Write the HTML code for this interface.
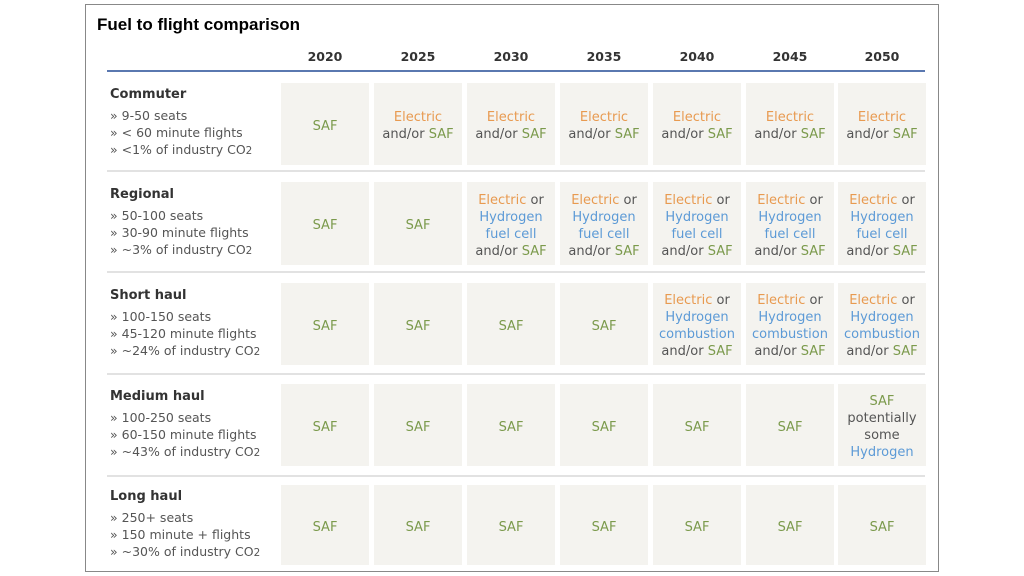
<!DOCTYPE html>
<html><head><meta charset="utf-8"><style>
*{margin:0;padding:0;box-sizing:border-box}
body{width:1024px;height:576px;background:#fff;position:relative;font-family:"DejaVu Sans","Liberation Sans",sans-serif;overflow:hidden}
.frame{position:absolute;left:85px;top:4px;width:854px;height:568px;border:1.5px solid #888}
.title{position:absolute;left:97px;top:15px;font:bold 17px "Liberation Sans",sans-serif;color:#000}
.yr{position:absolute;top:49px;width:88px;text-align:center;font:bold 12.5px "DejaVu Sans",sans-serif;color:#333}
.blue{position:absolute;left:107px;top:70px;width:818px;height:2px;background:#5a78b0}
.sep{position:absolute;left:107px;width:818px;height:2px;background:#e2e2e2}
.cell{position:absolute;width:88px;background:#f4f3ef;display:flex;align-items:center;justify-content:center;text-align:center;font-size:13px;line-height:17px;color:#555;padding-top:4px}
.lab{position:absolute;left:110px;font-size:12.5px;line-height:17px;color:#555}
.lab b{color:#333;font-size:13px;display:block;margin-bottom:4px}
.s{color:#7b9a4c}.e{color:#e89a50}.h{color:#5c9ad6}
</style></head><body>
<div class="frame"></div>
<div class="title">Fuel to flight comparison</div>
<div class="yr" style="left:281px">2020</div><div class="yr" style="left:374px">2025</div><div class="yr" style="left:467px">2030</div><div class="yr" style="left:560px">2035</div><div class="yr" style="left:653px">2040</div><div class="yr" style="left:746px">2045</div><div class="yr" style="left:838px">2050</div>
<div class="blue"></div>
<div class="sep" style="top:170px"></div><div class="sep" style="top:271px"></div><div class="sep" style="top:373px"></div><div class="sep" style="top:475px"></div>

<div class="lab" style="top:86px"><b>Commuter</b>» 9-50 seats<br>» &lt; 60 minute flights<br>» &lt;1% of industry CO<small>2</small></div>
<div class="lab" style="top:186px"><b>Regional</b>» 50-100 seats<br>» 30-90 minute flights<br>» ~3% of industry CO<small>2</small></div>
<div class="lab" style="top:287px"><b>Short haul</b>» 100-150 seats<br>» 45-120 minute flights<br>» ~24% of industry CO<small>2</small></div>
<div class="lab" style="top:388px"><b>Medium haul</b>» 100-250 seats<br>» 60-150 minute flights<br>» ~43% of industry CO<small>2</small></div>
<div class="lab" style="top:488px"><b>Long haul</b>» 250+ seats<br>» 150 minute + flights<br>» ~30% of industry CO<small>2</small></div>

<!-- Commuter -->
<div class="cell" style="left:281px;top:83px;height:82px"><span class="s">SAF</span></div>
<div class="cell" style="left:374px;top:83px;height:82px"><div><span class="e">Electric</span><br>and/or <span class="s">SAF</span></div></div>
<div class="cell" style="left:467px;top:83px;height:82px"><div><span class="e">Electric</span><br>and/or <span class="s">SAF</span></div></div>
<div class="cell" style="left:560px;top:83px;height:82px"><div><span class="e">Electric</span><br>and/or <span class="s">SAF</span></div></div>
<div class="cell" style="left:653px;top:83px;height:82px"><div><span class="e">Electric</span><br>and/or <span class="s">SAF</span></div></div>
<div class="cell" style="left:746px;top:83px;height:82px"><div><span class="e">Electric</span><br>and/or <span class="s">SAF</span></div></div>
<div class="cell" style="left:838px;top:83px;height:82px"><div><span class="e">Electric</span><br>and/or <span class="s">SAF</span></div></div>
<!-- Regional -->
<div class="cell" style="left:281px;top:182px;height:83px"><span class="s">SAF</span></div>
<div class="cell" style="left:374px;top:182px;height:83px"><span class="s">SAF</span></div>
<div class="cell" style="left:467px;top:182px;height:83px"><div><span class="e">Electric</span> or<br><span class="h">Hydrogen<br>fuel cell</span><br>and/or <span class="s">SAF</span></div></div>
<div class="cell" style="left:560px;top:182px;height:83px"><div><span class="e">Electric</span> or<br><span class="h">Hydrogen<br>fuel cell</span><br>and/or <span class="s">SAF</span></div></div>
<div class="cell" style="left:653px;top:182px;height:83px"><div><span class="e">Electric</span> or<br><span class="h">Hydrogen<br>fuel cell</span><br>and/or <span class="s">SAF</span></div></div>
<div class="cell" style="left:746px;top:182px;height:83px"><div><span class="e">Electric</span> or<br><span class="h">Hydrogen<br>fuel cell</span><br>and/or <span class="s">SAF</span></div></div>
<div class="cell" style="left:838px;top:182px;height:83px"><div><span class="e">Electric</span> or<br><span class="h">Hydrogen<br>fuel cell</span><br>and/or <span class="s">SAF</span></div></div>
<!-- Short -->
<div class="cell" style="left:281px;top:283px;height:82px"><span class="s">SAF</span></div>
<div class="cell" style="left:374px;top:283px;height:82px"><span class="s">SAF</span></div>
<div class="cell" style="left:467px;top:283px;height:82px"><span class="s">SAF</span></div>
<div class="cell" style="left:560px;top:283px;height:82px"><span class="s">SAF</span></div>
<div class="cell" style="left:653px;top:283px;height:82px"><div><span class="e">Electric</span> or<br><span class="h">Hydrogen<br>combustion</span><br>and/or <span class="s">SAF</span></div></div>
<div class="cell" style="left:746px;top:283px;height:82px"><div><span class="e">Electric</span> or<br><span class="h">Hydrogen<br>combustion</span><br>and/or <span class="s">SAF</span></div></div>
<div class="cell" style="left:838px;top:283px;height:82px"><div><span class="e">Electric</span> or<br><span class="h">Hydrogen<br>combustion</span><br>and/or <span class="s">SAF</span></div></div>
<!-- Medium -->
<div class="cell" style="left:281px;top:384px;height:82px"><span class="s">SAF</span></div>
<div class="cell" style="left:374px;top:384px;height:82px"><span class="s">SAF</span></div>
<div class="cell" style="left:467px;top:384px;height:82px"><span class="s">SAF</span></div>
<div class="cell" style="left:560px;top:384px;height:82px"><span class="s">SAF</span></div>
<div class="cell" style="left:653px;top:384px;height:82px"><span class="s">SAF</span></div>
<div class="cell" style="left:746px;top:384px;height:82px"><span class="s">SAF</span></div>
<div class="cell" style="left:838px;top:384px;height:82px"><div><span class="s">SAF</span><br>potentially<br>some<br><span class="h">Hydrogen</span></div></div>
<!-- Long -->
<div class="cell" style="left:281px;top:485px;height:80px"><span class="s">SAF</span></div>
<div class="cell" style="left:374px;top:485px;height:80px"><span class="s">SAF</span></div>
<div class="cell" style="left:467px;top:485px;height:80px"><span class="s">SAF</span></div>
<div class="cell" style="left:560px;top:485px;height:80px"><span class="s">SAF</span></div>
<div class="cell" style="left:653px;top:485px;height:80px"><span class="s">SAF</span></div>
<div class="cell" style="left:746px;top:485px;height:80px"><span class="s">SAF</span></div>
<div class="cell" style="left:838px;top:485px;height:80px"><span class="s">SAF</span></div>
</body></html>
